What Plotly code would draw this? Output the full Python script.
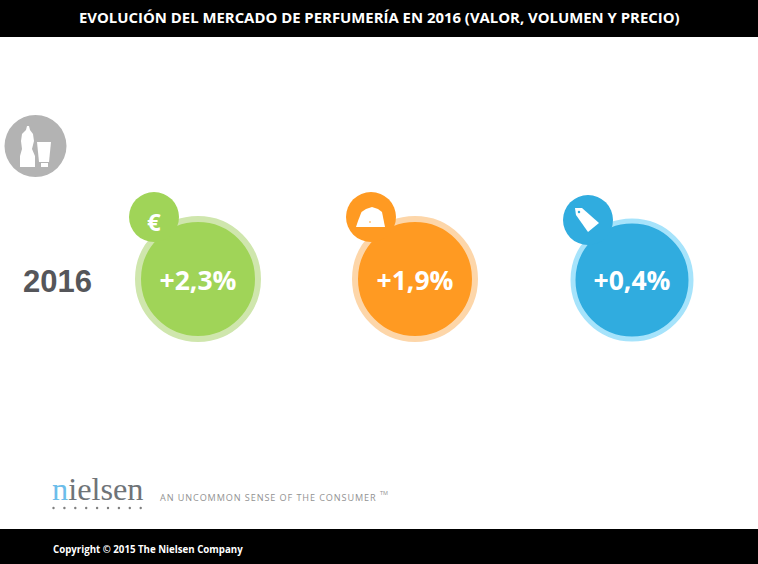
import plotly.graph_objects as go

W, H = 758, 564

# data
title_text = "EVOLUCIÓN DEL MERCADO DE PERFUMERÍA EN 2016 (VALOR, VOLUMEN Y PRECIO)"
year_label = "2016"
categories = ["Valor", "Volumen", "Precio"]
values = [2.3, 1.9, 0.4]
core_colors = ["#a0d458", "#ff9a22", "#30acdf"]
halo_colors = ["#cfe6ad", "#fdd6a9", "#a6e3fb"]
tagline = "\u200a".join("AN UNCOMMON SENSE OF THE CONSUMER")


def px(x):
    return x / W


def py(y):
    return 1 - y / H


def path(points):
    # pixel points -> closed svg path in paper coords
    parts = [f"{px(x):.5f},{py(y):.5f}" for x, y in points]
    return "M" + " L".join(parts) + " Z"


def rect(x0, y0, x1, y1, color):
    return dict(type="rect", xref="paper", yref="paper", x0=px(x0), x1=px(x1),
                y0=py(y1), y1=py(y0), fillcolor=color, line_width=0, layer="below")


def circle(cx, cy, d, color, layer="above"):
    return dict(type="circle", xref="paper", yref="paper", x0=px(cx - d / 2), x1=px(cx + d / 2),
                y0=py(cy + d / 2), y1=py(cy - d / 2), fillcolor=color, line_width=0, layer=layer)


def poly(points, color):
    return dict(type="path", xref="paper", yref="paper", path=path(points),
                fillcolor=color, line_width=0, layer="above")


def label(x, y, text, size, color, family="Open Sans", anchor="center"):
    return dict(xref="paper", yref="paper", x=px(x), y=py(y), text=text, showarrow=False,
                xanchor=anchor, yanchor="middle", font=dict(size=size, color=color, family=family))


fig = go.Figure()

# big bubbles
fig.add_trace(go.Scatter(
    x=categories,
    y=[279, 279, 280],
    mode="markers",
    marker=dict(size=[120, 120, 118], color=core_colors,
                line=dict(width=[6, 6, 5], color=halo_colors), opacity=1),
    hoverinfo="skip",
))

# percent labels sit a bit under the bubble centre
fig.add_trace(go.Scatter(
    x=categories,
    y=[283, 283, 283],
    mode="text",
    text=[f"+{v:.1f}%".replace(".", ",") for v in values],
    textposition="middle center",
    textfont=dict(size=26.5, color="white", family="Open Sans", weight="bold"),
    hoverinfo="skip",
))

# small badges on the top-left of each bubble
fig.add_trace(go.Scatter(
    x=categories,
    y=[217, 217, 220],
    xaxis="x2",
    mode="markers",
    marker=dict(size=50, color=core_colors),
    hoverinfo="skip",
))

shapes = [
    rect(0, 0, W, 37, "black"),
    rect(0, 529, W, H, "black"),
    circle(35.5, 146, 62, "#b3b3b3", layer="below"),
    # bottle
    poly([(27, 126), (29, 126), (30, 130), (33, 134), (34, 141), (32, 149), (35, 156), (35, 167),
          (20, 167), (20, 156), (22, 149), (21, 141), (22, 134), (26, 130)], "white"),
    # tube and its cap
    poly([(37, 142), (51, 142), (49, 162), (39, 162)], "white"),
    poly([(41, 163), (48, 163), (48, 167), (41, 167)], "white"),
    # weight
    poly([(356, 227), (358, 221), (361.5, 212), (366, 209), (372, 207), (378, 209), (382, 212),
          (385, 227)], "white"),
    circle(370, 222, 1.6, "#ff9a22"),
    # price tag
    poly([(575, 208), (582, 208), (599, 223), (588, 232), (576, 215)], "white"),
    circle(579, 212, 2.5, "#30acdf"),
]

# dots under the logo
for i in range(9):
    shapes.append(circle(53.5 + i * 10.9, 508, 2.4, "#7f7f7f"))

annotations = [
    label(379, 17, f"<b>{title_text}</b>", 14.9, "white"),
    label(57, 281, f"<b>{year_label}</b>", 31, "#55565a", family="Liberation Sans"),
    label(154, 222, "<b>€</b>", 24, "white"),
    label(50, 489, "<span style='color:#6cbdea'>n</span>ielsen", 32.3, "#6f7478",
          family="Liberation Serif", anchor="left"),
    label(158, 497, tagline, 9.1, "#929292", family="Open Sans", anchor="left"),
    label(378, 493, "TM", 5.5, "#929292", family="Open Sans", anchor="left"),
    label(51, 549, "<b>Copyright © 2015 The Nielsen Company</b>", 9.7, "white", anchor="left"),
]

# one category step equals the spacing between bubbles
step = 217
axis_off = dict(visible=False, fixedrange=True)
fig.update_layout(
    width=W,
    height=H,
    margin=dict(l=0, r=0, t=0, b=0),
    paper_bgcolor="white",
    plot_bgcolor="white",
    showlegend=False,
    xaxis=dict(axis_off, type="category", categoryorder="array", categoryarray=categories,
               range=[-198 / step, (W - 198) / step]),
    xaxis2=dict(axis_off, type="category", categoryorder="array", categoryarray=categories,
                overlaying="x", range=[-154 / step, (W - 154) / step]),
    yaxis=dict(axis_off, range=[H, 0]),
    shapes=shapes,
    annotations=annotations,
)

fig.write_html("out.html", config={"displayModeBar": False},
               post_script="document.body.style.margin='0';")
